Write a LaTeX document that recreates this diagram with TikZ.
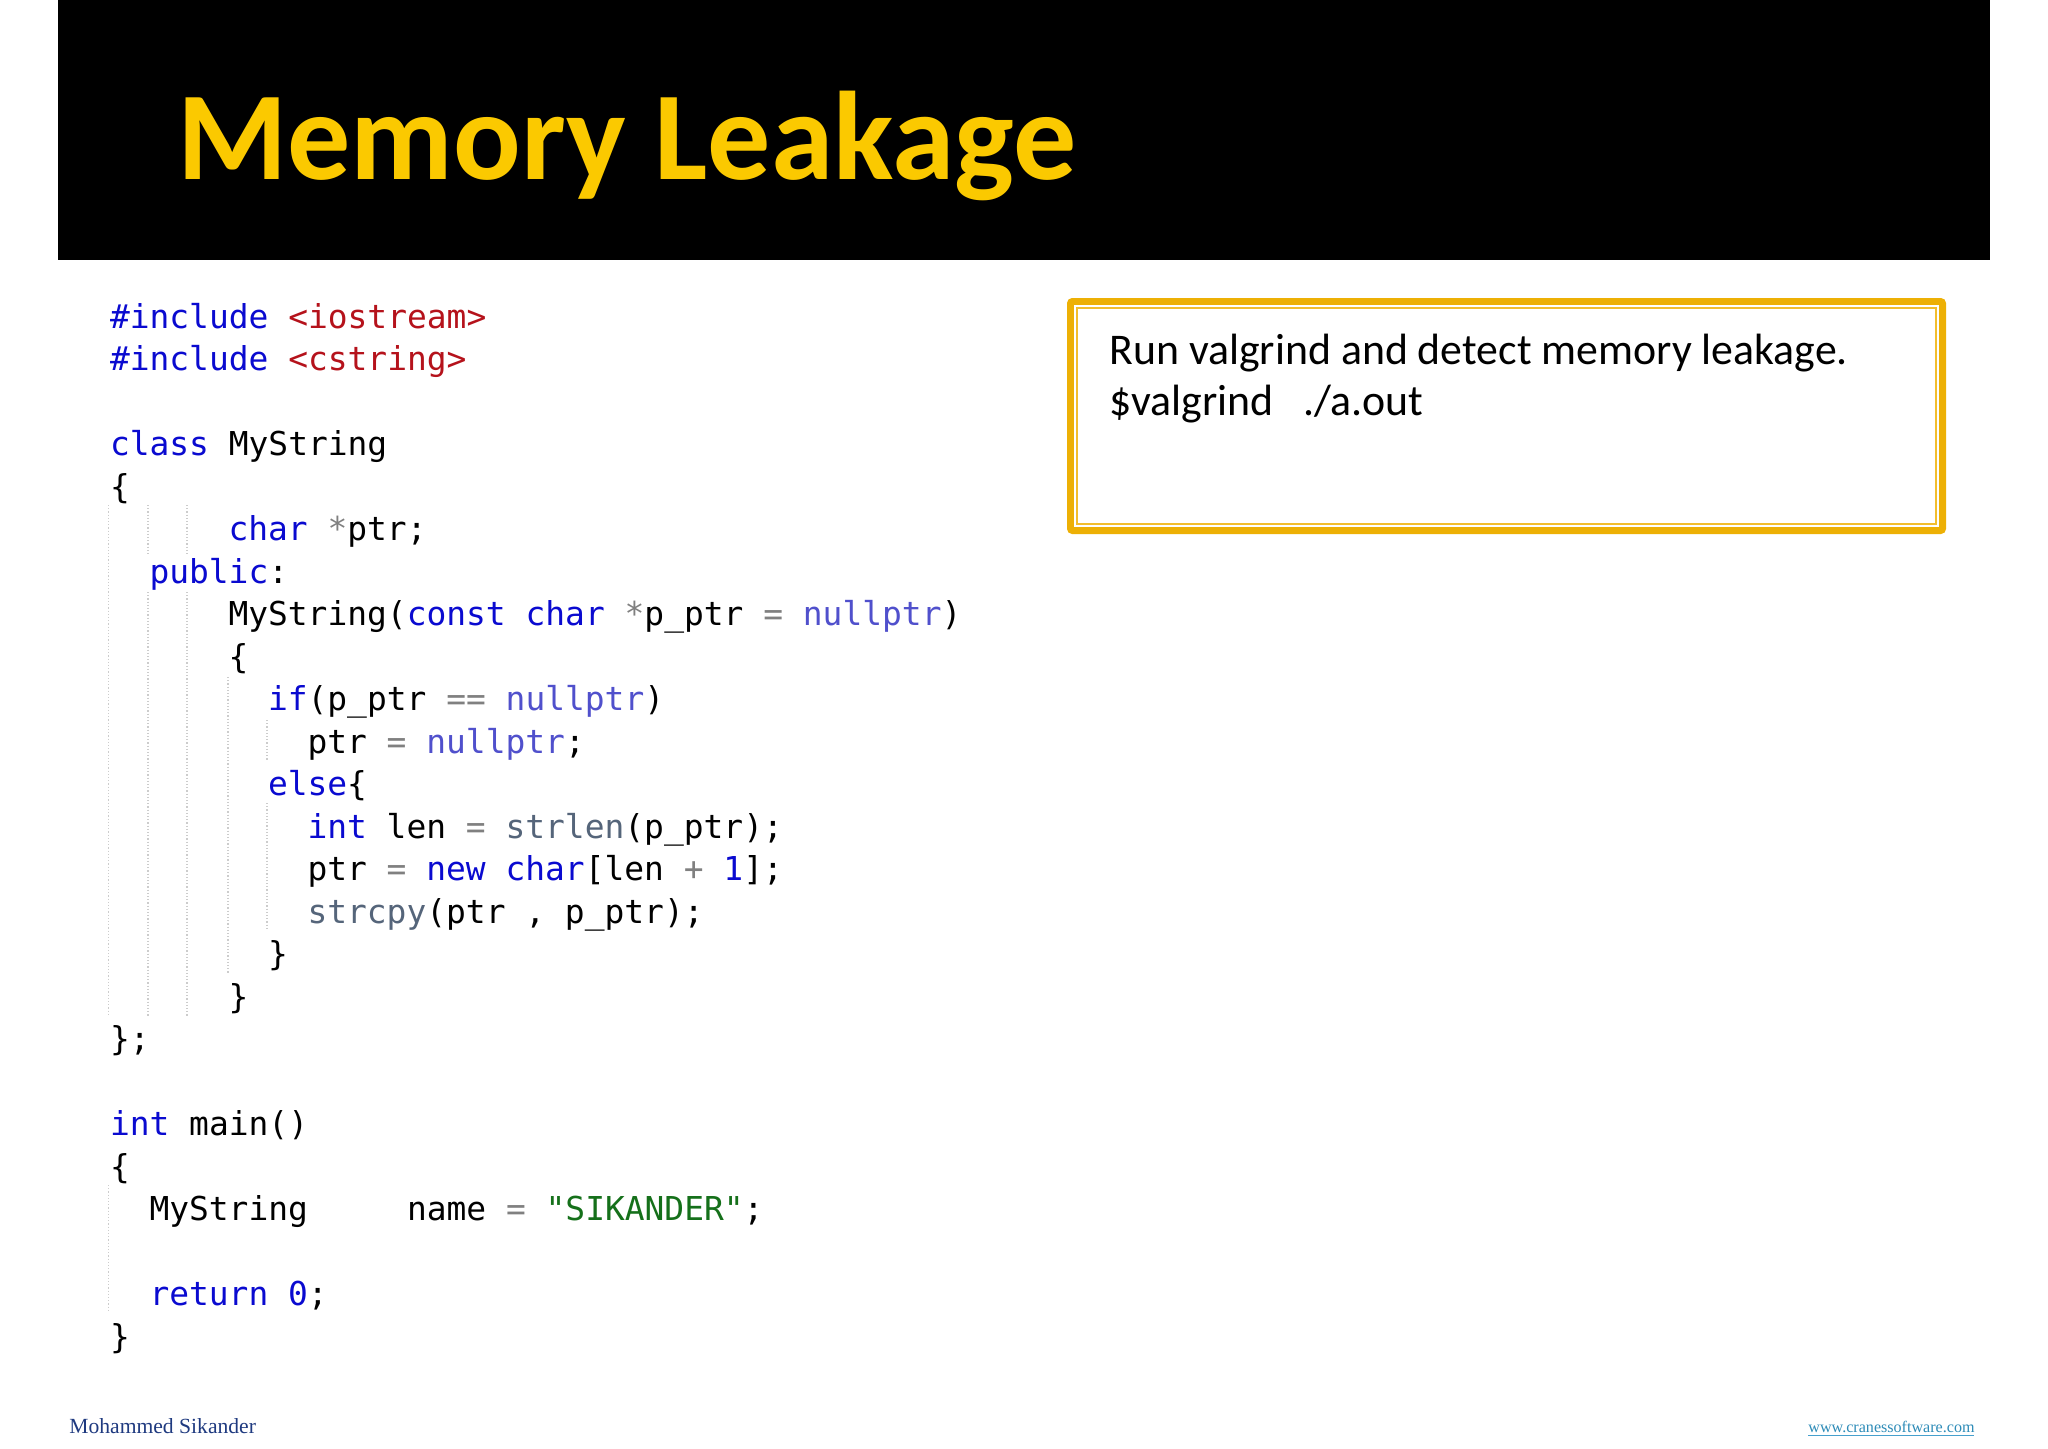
\documentclass[tikz,border=0pt]{standalone}
\usepackage{fontspec}
\setmainfont{Carlito}
\newfontfamily\codefont{DejaVu Sans Mono}
\newfontfamily\footfont{Liberation Serif}
\definecolor{kw}{HTML}{0A0AD0}
\definecolor{incl}{HTML}{B5121B}
\definecolor{nul}{HTML}{5050CC}
\definecolor{op}{HTML}{808080}
\definecolor{fn}{HTML}{55657A}
\definecolor{str}{HTML}{15701A}
\definecolor{gold}{HTML}{EDB005}
\definecolor{goldthin}{HTML}{F2BE2E}
\definecolor{guide}{HTML}{CCCCCC}
\definecolor{titlegold}{HTML}{FBC900}
\newcommand{\K}[1]{\textcolor{kw}{#1}}
\newcommand{\I}[1]{\textcolor{incl}{#1}}
\newcommand{\Nl}[1]{\textcolor{nul}{#1}}
\newcommand{\Op}[1]{\textcolor{op}{#1}}
\newcommand{\Fn}[1]{\textcolor{fn}{#1}}
\newcommand{\St}[1]{\textcolor{str}{#1}}
\newcommand{\colw}{19.75}
\begin{document}
\begin{tikzpicture}[x=0.5pt,y=-0.5pt,
  codeline/.style={anchor=base west,inner sep=0pt,outer sep=0pt,font=\codefont\fontsize{16.45pt}{20pt}\selectfont,text=black},
  guideline/.style={guide,line width=0.6pt,densely dotted},
  titletext/.style={anchor=base west,inner sep=0pt,text=titlegold,font=\fontsize{63pt}{70pt}\selectfont\bfseries},
  boxtext/.style={anchor=base west,inner sep=0pt,font=\fontsize{21.9pt}{26pt}\selectfont,text=black},
  footl/.style={anchor=base west,inner sep=0pt,font=\footfont\fontsize{10.8pt}{13pt}\selectfont},
  footr/.style={anchor=base west,inner sep=0pt,font=\footfont\fontsize{8.05pt}{10pt}\selectfont}]
\useasboundingbox (0,0) rectangle (2048,1448);
\fill[white] (0,0) rectangle (2048,1448);
% header
\fill[black] (58,0) rectangle (1990,260);
\node[titletext] (title) at (177,179) {Memory Leakage};
% box
\fill[gold,rounded corners=2.5pt] (1067,298) rectangle (1946,534);
\fill[white] (1074,305) rectangle (1939,527);
\draw[goldthin,line width=1pt] (1077,308) rectangle (1936,524);
\node[boxtext] (boxa) at (1109,364) {Run valgrind and detect memory leakage.};
\node[boxtext] (boxb) at (1109,415) {\$valgrind\ \ \ ./a.out};
% guides
\draw[guideline] (108.5,505) -- (108.5,1016);
\draw[guideline] (148,505) -- (148,555);
\draw[guideline] (148,592) -- (148,1016);
\draw[guideline] (187,505) -- (187,555);
\draw[guideline] (187,592) -- (187,1016);
\draw[guideline] (228,677) -- (228,973);
\draw[guideline] (267,720) -- (267,760);
\draw[guideline] (267,803) -- (267,930);
\draw[guideline] (108.5,1185) -- (108.5,1312);
% code
\foreach \nm/\ln/\cl/\tx in {
 l0/0/0/{\K{\#include} \I{<iostream>}},
 l1/1/0/{\K{\#include} \I{<cstring>}},
 l3/3/0/{\K{class} MyString},
 l4/4/0/{\{},
 l5/5/6/{\K{char} \Op{*}ptr;},
 l6/6/2/{\K{public}:},
 l7/7/6/{MyString(\K{const} \K{char} \Op{*}p\_ptr \Op{=} \Nl{nullptr})},
 l8/8/6/{\{},
 l9/9/8/{\K{if}(p\_ptr \Op{==} \Nl{nullptr})},
 l10/10/10/{ptr \Op{=} \Nl{nullptr};},
 l11/11/8/{\K{else}\{},
 l12/12/10/{\K{int} len \Op{=} \Fn{strlen}(p\_ptr);},
 l13/13/10/{ptr \Op{=} \K{new} \K{char}[len \Op{+} \K{1}];},
 l14/14/10/{\Fn{strcpy}(ptr , p\_ptr);},
 l15/15/8/{\}},
 l16/16/6/{\}},
 l17/17/0/{\};},
 l19/19/0/{\K{int} main()},
 l20/20/0/{\{},
 l21/21/2/{MyString\ \ \ \ \ name \Op{=} \St{"SIKANDER"};},
 l23/23/2/{\K{return} \K{0};},
 l24/24/0/{\}}}
{
  \pgfmathsetmacro{\px}{110+\cl*\colw}
  \pgfmathsetmacro{\py}{328+\ln*42.5}
  \node[codeline] (\nm) at (\px,\py) {\tx};
}
% footer
\node[footl] (author) at (69,1433) {\textcolor[HTML]{1F3A80}{Mohammed Sikander}};
\node[footr] (site) at (1808,1432) {\textcolor[HTML]{2E8CB8}{www.cranessoftware.com}};
\draw[draw={rgb,255:red,70;green,160;blue,205},line width=0.5pt] (site.base west)++(0,3) -- ++(166,0);
\end{tikzpicture}
\end{document}
